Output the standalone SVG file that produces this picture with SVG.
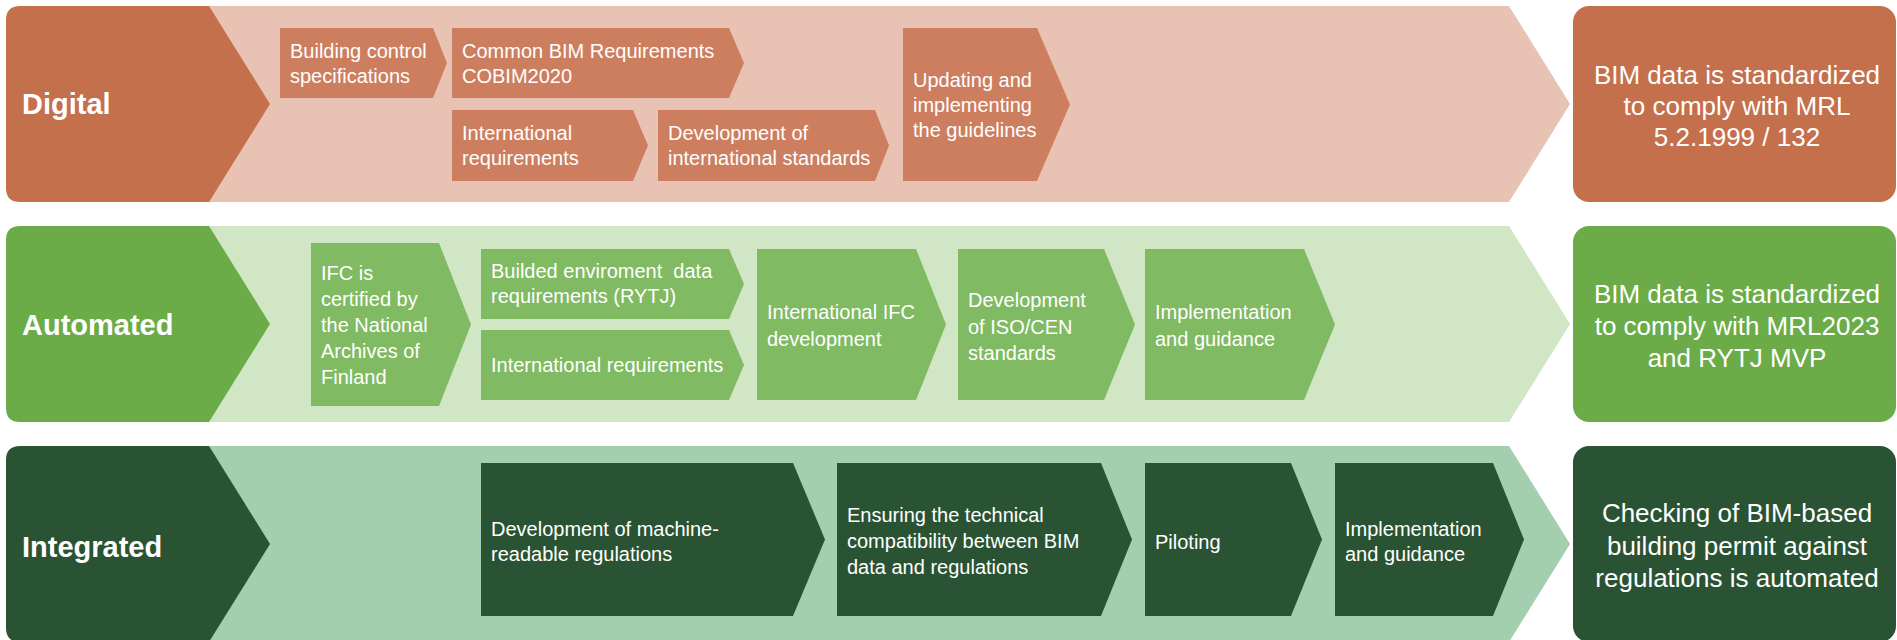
<svg xmlns="http://www.w3.org/2000/svg" width="1897" height="640" viewBox="0 0 1897 640">
<style>
text{font-family:"Liberation Sans",Arial,sans-serif;fill:#ffffff}
.hd{font-size:29px;font-weight:bold}
.ch{font-size:20px}
.oc{font-size:26px;text-anchor:middle}
.d-band{fill:#E8C3B4}.d-head{fill:#C5704D}.d-box{fill:#CD7E5F}
.a-band{fill:#D0E6C5}.a-head{fill:#6BAC48}.a-box{fill:#80BA62}
.i-band{fill:#A3CFAE}.i-head{fill:#2A5334}.i-box{fill:#2A5334}
</style>
<rect width="1897" height="640" fill="#ffffff"/>

<!-- Row 1: Digital -->
<g id="row-digital">
<path class="d-band" d="M150,6 L1509,6 L1570,104 L1509,202 L150,202 Z"/>
<path class="d-head" d="M20,6 L209,6 L270,104 L209,202 L20,202 Q6,202 6,188 L6,20 Q6,6 20,6 Z"/>
<text class="hd" x="22" y="114">Digital</text>
</g>
<g id="d-building-control">
<polygon class="d-box" points="280,28 433,28 447,63 433,98 280,98"/>
<text class="ch" x="290" y="58">Building control</text>
<text class="ch" x="290" y="83">specifications</text>
</g>
<g id="d-cobim">
<polygon class="d-box" points="452,28 729,28 744,63 729,98 452,98"/>
<text class="ch" x="462" y="58">Common BIM Requirements</text>
<text class="ch" x="462" y="83">COBIM2020</text>
</g>
<g id="d-intl-req">
<polygon class="d-box" points="452,110 633,110 648,145.5 633,181 452,181"/>
<text class="ch" x="462" y="140">International</text>
<text class="ch" x="462" y="165">requirements</text>
</g>
<g id="d-intl-std">
<polygon class="d-box" points="658,110 875,110 889,145.5 875,181 658,181"/>
<text class="ch" x="668" y="140">Development of</text>
<text class="ch" x="668" y="165">international standards</text>
</g>
<g id="d-updating">
<polygon class="d-box" points="903,28 1037,28 1070,104.5 1037,181 903,181"/>
<text class="ch" x="913" y="87">Updating and</text>
<text class="ch" x="913" y="112">implementing</text>
<text class="ch" x="913" y="137">the guidelines</text>
</g>
<g id="d-outcome">
<rect class="d-head" x="1573" y="6" width="323" height="196" rx="16"/>
<text class="oc" x="1737" y="84">BIM data is standardized</text>
<text class="oc" x="1737" y="115">to comply with MRL</text>
<text class="oc" x="1737" y="146">5.2.1999 / 132</text>
</g>

<!-- Row 2: Automated -->
<g id="row-automated">
<path class="a-band" d="M150,226 L1509,226 L1570,324 L1509,422 L150,422 Z"/>
<path class="a-head" d="M20,226 L209,226 L270,324 L209,422 L20,422 Q6,422 6,408 L6,240 Q6,226 20,226 Z"/>
<text class="hd" x="22" y="335">Automated</text>
</g>
<g id="a-ifc-certified">
<polygon class="a-box" points="311,243 439,243 471,324.5 439,406 311,406"/>
<text class="ch" x="321" y="280">IFC is</text>
<text class="ch" x="321" y="306">certified by</text>
<text class="ch" x="321" y="332">the National</text>
<text class="ch" x="321" y="358">Archives of</text>
<text class="ch" x="321" y="384">Finland</text>
</g>
<g id="a-rytj">
<polygon class="a-box" points="481,249 729,249 744,284 729,319 481,319"/>
<text class="ch" x="491" y="278" xml:space="preserve">Builded enviroment  data</text>
<text class="ch" x="491" y="303">requirements (RYTJ)</text>
</g>
<g id="a-intl-req">
<polygon class="a-box" points="481,330 729,330 744,365 729,400 481,400"/>
<text class="ch" x="491" y="372">International requirements</text>
</g>
<g id="a-ifc-dev">
<polygon class="a-box" points="757,249 916,249 946,324.5 916,400 757,400"/>
<text class="ch" x="767" y="319">International IFC</text>
<text class="ch" x="767" y="346">development</text>
</g>
<g id="a-iso-cen">
<polygon class="a-box" points="958,249 1104,249 1135,324.5 1104,400 958,400"/>
<text class="ch" x="968" y="307">Development</text>
<text class="ch" x="968" y="334">of ISO/CEN</text>
<text class="ch" x="968" y="360">standards</text>
</g>
<g id="a-implementation">
<polygon class="a-box" points="1145,249 1304,249 1335,324.5 1304,400 1145,400"/>
<text class="ch" x="1155" y="319">Implementation</text>
<text class="ch" x="1155" y="346">and guidance</text>
</g>
<g id="a-outcome">
<rect class="a-head" x="1573" y="226" width="323" height="196" rx="16"/>
<text class="oc" x="1737" y="303">BIM data is standardized</text>
<text class="oc" x="1737" y="335">to comply with MRL2023</text>
<text class="oc" x="1737" y="367">and RYTJ MVP</text>
</g>

<!-- Row 3: Integrated -->
<g id="row-integrated">
<path class="i-band" d="M150,446 L1509,446 L1570,544 L1509,642 L150,642 Z"/>
<path class="i-head" d="M20,446 L209,446 L270,544 L209,642 L20,642 Q6,642 6,628 L6,460 Q6,446 20,446 Z"/>
<text class="hd" x="22" y="557">Integrated</text>
</g>
<g id="i-machine-readable">
<polygon class="i-box" points="481,463 793,463 825,539.5 793,616 481,616"/>
<text class="ch" x="491" y="536">Development of machine-</text>
<text class="ch" x="491" y="561">readable regulations</text>
</g>
<g id="i-compatibility">
<polygon class="i-box" points="837,463 1101,463 1132,539.5 1101,616 837,616"/>
<text class="ch" x="847" y="522">Ensuring the technical</text>
<text class="ch" x="847" y="548">compatibility between BIM</text>
<text class="ch" x="847" y="574">data and regulations</text>
</g>
<g id="i-piloting">
<polygon class="i-box" points="1145,463 1291,463 1322,539.5 1291,616 1145,616"/>
<text class="ch" x="1155" y="549">Piloting</text>
</g>
<g id="i-implementation">
<polygon class="i-box" points="1335,463 1493,463 1524,539.5 1493,616 1335,616"/>
<text class="ch" x="1345" y="536">Implementation</text>
<text class="ch" x="1345" y="561">and guidance</text>
</g>
<g id="i-outcome">
<rect class="i-head" x="1573" y="446" width="323" height="196" rx="16"/>
<text class="oc" x="1737" y="522">Checking of BIM-based</text>
<text class="oc" x="1737" y="555">building permit against</text>
<text class="oc" x="1737" y="587">regulations is automated</text>
</g>

<g id="connectors"></g>
</svg>
